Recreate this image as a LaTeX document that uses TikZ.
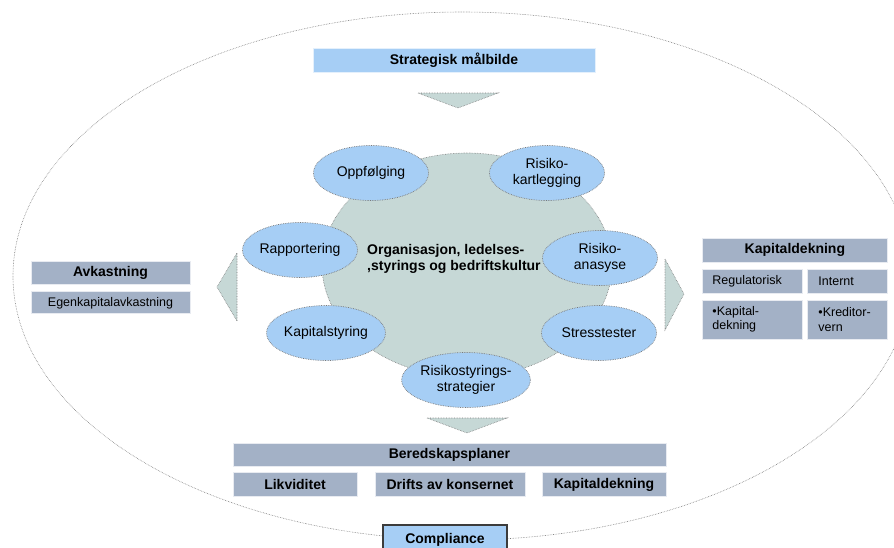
\documentclass[tikz,border=0pt]{standalone}
\usepackage{fontspec}
\setmainfont{Liberation Sans}
\usepackage{xcolor}
\usetikzlibrary{positioning, arrows.meta, shapes.geometric}
\definecolor{skyblue}{HTML}{A6CEF5}
\definecolor{slateblue}{HTML}{A3B1C6}
\definecolor{sagegrey}{HTML}{C6D8D6}
\definecolor{dotgrey}{HTML}{7A7A7A}
\definecolor{edgegrey}{HTML}{3C3C3C}

\begin{document}
\begin{tikzpicture}[x=1pt, y=-1pt,
    bubble/.style={ellipse, fill=skyblue, draw=dotgrey, densely dotted, line width=0.7pt,
      minimum width=115pt, minimum height=55pt, inner sep=0pt, align=center,
      font=\fontsize{14}{15.5}\selectfont},
    headbox/.style={rectangle, fill=slateblue, draw=white!75!slateblue, line width=0.8pt,
      inner sep=0pt, minimum height=24pt, font=\fontsize{14}{16}\bfseries\selectfont},
    subbox/.style={rectangle, fill=slateblue, draw=white!75!slateblue, line width=0.8pt,
      inner sep=0pt, minimum height=24pt, font=\fontsize{12.5}{14.5}\selectfont},
    pointer/.style={fill=sagegrey, draw=dotgrey, densely dotted, line width=0.6pt}]
  \clip (0,0) rectangle (894,547);
  \useasboundingbox (0,0) rectangle (894,547);

  % outer frame
  \draw[dotgrey, densely dotted, line width=0.6pt] (462,276) ellipse [x radius=449pt, y radius=264pt];

  % top
  \node[rectangle, fill=skyblue, draw=white!70!skyblue, line width=0.8pt, minimum width=282pt,
        minimum height=24pt, font=\fontsize{14}{16}\bfseries\selectfont] (maal) at (454,60) {Strategisk målbilde};
  \draw[pointer] (418,93) -- (498,93) -- (458,108) -- cycle;

  % centre
  \node[ellipse, fill=sagegrey, draw=dotgrey, densely dotted, line width=0.6pt,
        minimum width=290pt, minimum height=224pt] (kultur) at (467,265) {};

  \node[bubble] (oppf) at (371,173) {Oppfølging};
  \node[bubble] (kartl) at (547,173) {Risiko-\\kartlegging};
  \node[bubble] (rapp) at (300,250) {Rapportering};
  \node[bubble] (anal) at (600,258) {Risiko-\\anasyse};
  \node[bubble] (kapst) at (326,333) {Kapitalstyring};
  \node[bubble] (stress) at (599,333) {Stresstester};
  \node[bubble, minimum width=112pt] (strat) at (466,380) {Risikostyrings-\\strategier};

  \node[align=left, anchor=west, inner sep=0pt, font=\fontsize{14}{16}\bfseries\selectfont]
        (kulturtxt) at (367,259) {Organisasjon, ledelses-\\,styrings og bedriftskultur};

  % left
  \draw[pointer] (237,253) -- (237,321) -- (217,287) -- cycle;
  \node[headbox, minimum width=159pt, minimum height=23pt] (avk) at (110.5,272.5) {Avkastning};
  \node[subbox, minimum width=159pt, minimum height=22pt, below=7pt of avk] (egen) {Egenkapitalavkastning};

  % right
  \draw[pointer] (665,259) -- (684,294) -- (665,330) -- cycle;
  \node[headbox, minimum width=185pt, anchor=north west] (kapR) at (702,238) {Kapitaldekning};
  \node[subbox, text width=80pt, inner xsep=10pt, align=left,
        below right=6pt and 0pt of kapR.south west] (reg) {Regulatorisk};
  \node[subbox, text width=58pt, inner xsep=11pt, align=left,
        below left=6pt and 0pt of kapR.south east] (intern) {Internt};
  \node[subbox, text width=80pt, inner xsep=10pt, align=left, minimum height=39pt,
        below=6pt of reg] (kapdek) {•Kapital-\\dekning};
  \node[subbox, text width=58pt, inner xsep=11pt, align=left, minimum height=39pt,
        below=6pt of intern] (kred) {•Kreditor-\\vern};

  % bottom
  \draw[pointer] (427,418) -- (507,418) -- (467,433) -- cycle;
  \node[headbox, minimum width=433pt, minimum height=23pt] (bered) at (449.5,454.5) {Beredskapsplaner};
  \node[headbox, minimum width=124pt, below right=6pt and 0pt of bered.south west] (likv) {Likviditet};
  \node[headbox, minimum width=150pt] (drift) at (450,484.5) {Drifts av konsernet};
  \node[headbox, minimum width=124pt, below left=6pt and 0pt of bered.south east] (kapB) {Kapitaldekning};
  \node[rectangle, fill=skyblue, draw=edgegrey, line width=1.1pt, minimum width=124pt,
        minimum height=30pt, font=\fontsize{14}{16}\bfseries\selectfont] (compl) at (445,540) {Compliance};
\end{tikzpicture}
\end{document}
